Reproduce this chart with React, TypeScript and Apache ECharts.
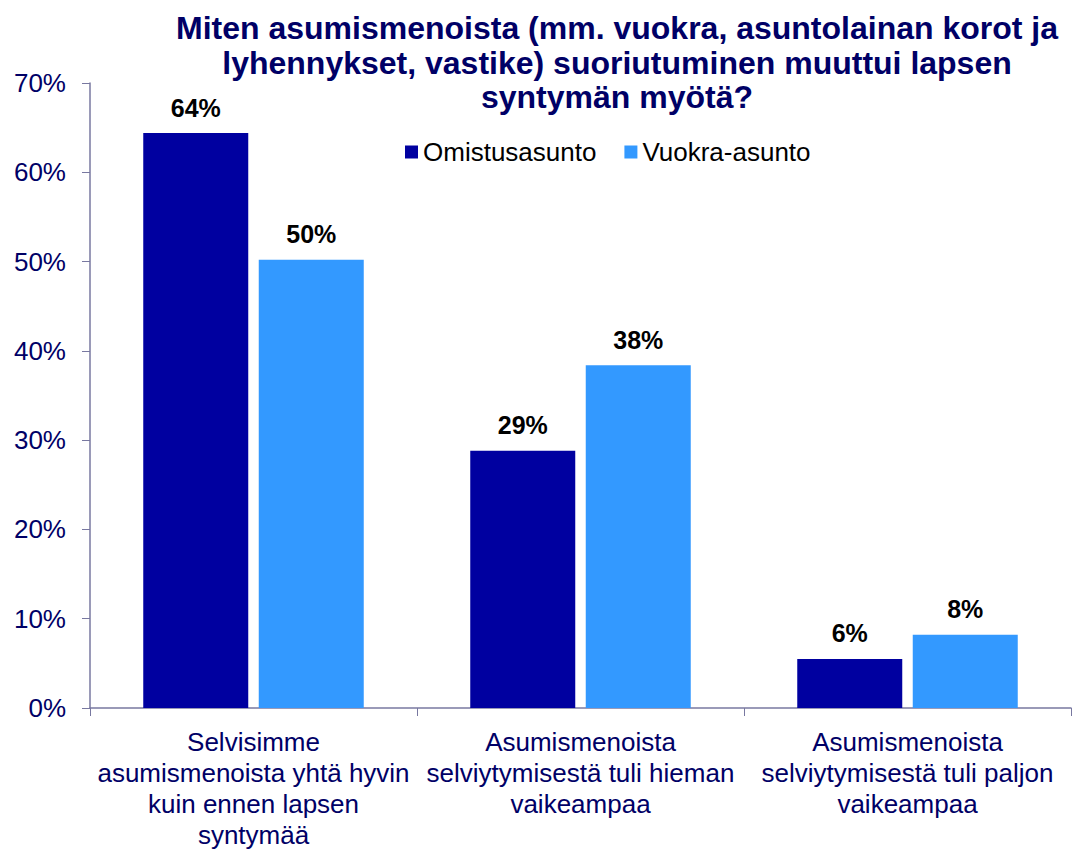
import React, { useEffect, useRef } from "react";
import * as echarts from "echarts";

const categories = [
  "Selvisimme\nasumismenoista yhtä hyvin\nkuin ennen lapsen\nsyntymää",
  "Asumismenoista\nselviytymisestä tuli hieman\nvaikeampaa",
  "Asumismenoista\nselviytymisestä tuli paljon\nvaikeampaa",
];
const omistusasunto = [64.4, 28.8, 5.5];
const vuokraAsunto = [50.2, 38.4, 8.2];
const seriesNames = ["Omistusasunto", "Vuokra-asunto"];
const titleText =
  "Miten asumismenoista (mm. vuokra, asuntolainan korot ja\nlyhennykset, vastike) suoriutuminen muuttui lapsen\nsyntymän myötä?";

export default function App() {
  const ref = useRef<HTMLDivElement>(null);
  useEffect(() => {
    const chart = echarts.init(ref.current!, null, { renderer: "svg" });
    const font = "Liberation Sans, Arial, sans-serif";
    const labelOpt = {
      show: true,
      position: "top",
      distance: 13,
      fontFamily: font,
      fontWeight: "bold",
      fontSize: 25,
      color: "#000000",
      formatter: (p: any) => Math.round(p.value) + "%",
    };
    chart.setOption({
      animation: false,
      textStyle: { fontFamily: font },
      graphic: [
        {
          type: "text",
          x: 617,
          y: 11,
          style: {
            text: titleText,
            fontFamily: font,
            fontWeight: "bold",
            fontSize: 32,
            lineHeight: 34.5,
            fill: "#000066",
            align: "center",
            verticalAlign: "top",
          },
        },
      ],
      legend: {
        top: 134,
        left: 400,
        itemWidth: 13,
        itemHeight: 13,
        itemGap: 28,
        icon: "rect",
        textStyle: { fontFamily: font, fontSize: 26, lineHeight: 26, color: "#000000", padding: [0, 0, 0, 0] },
        data: seriesNames,
      },
      grid: { left: 90, right: 1, top: 83, bottom: 126, containLabel: false },
      xAxis: {
        type: "category",
        data: categories,
        axisLine: { lineStyle: { color: "#7878a0", width: 1.5 } },
        axisTick: { show: true, length: 8, lineStyle: { color: "#7878a0" } },
        axisLabel: {
          interval: 0,
          fontFamily: font,
          fontSize: 26,
          lineHeight: 31,
          color: "#000066",
          margin: 18,
        },
      },
      yAxis: {
        type: "value",
        min: 0,
        max: 70,
        interval: 10,
        splitLine: { show: false },
        axisLine: { show: true, lineStyle: { color: "#7878a0", width: 1.5 } },
        axisTick: { show: true, length: 8, lineStyle: { color: "#7878a0" } },
        axisLabel: {
          fontFamily: font,
          fontSize: 26,
          color: "#000066",
          margin: 24,
          formatter: "{value}%",
        },
      },
      series: [
        {
          name: seriesNames[0],
          type: "bar",
          data: omistusasunto,
          barWidth: 105,
          barGap: "10%",
          itemStyle: { color: "#0000A0" },
          label: labelOpt,
        },
        {
          name: seriesNames[1],
          type: "bar",
          data: vuokraAsunto,
          barWidth: 105,
          itemStyle: { color: "#3399FF" },
          label: labelOpt,
        },
      ],
    });
    return () => chart.dispose();
  }, []);
  return <div ref={ref} style={{ width: 1072, height: 850, position: "absolute", left: 0, top: 0 }} />;
}
